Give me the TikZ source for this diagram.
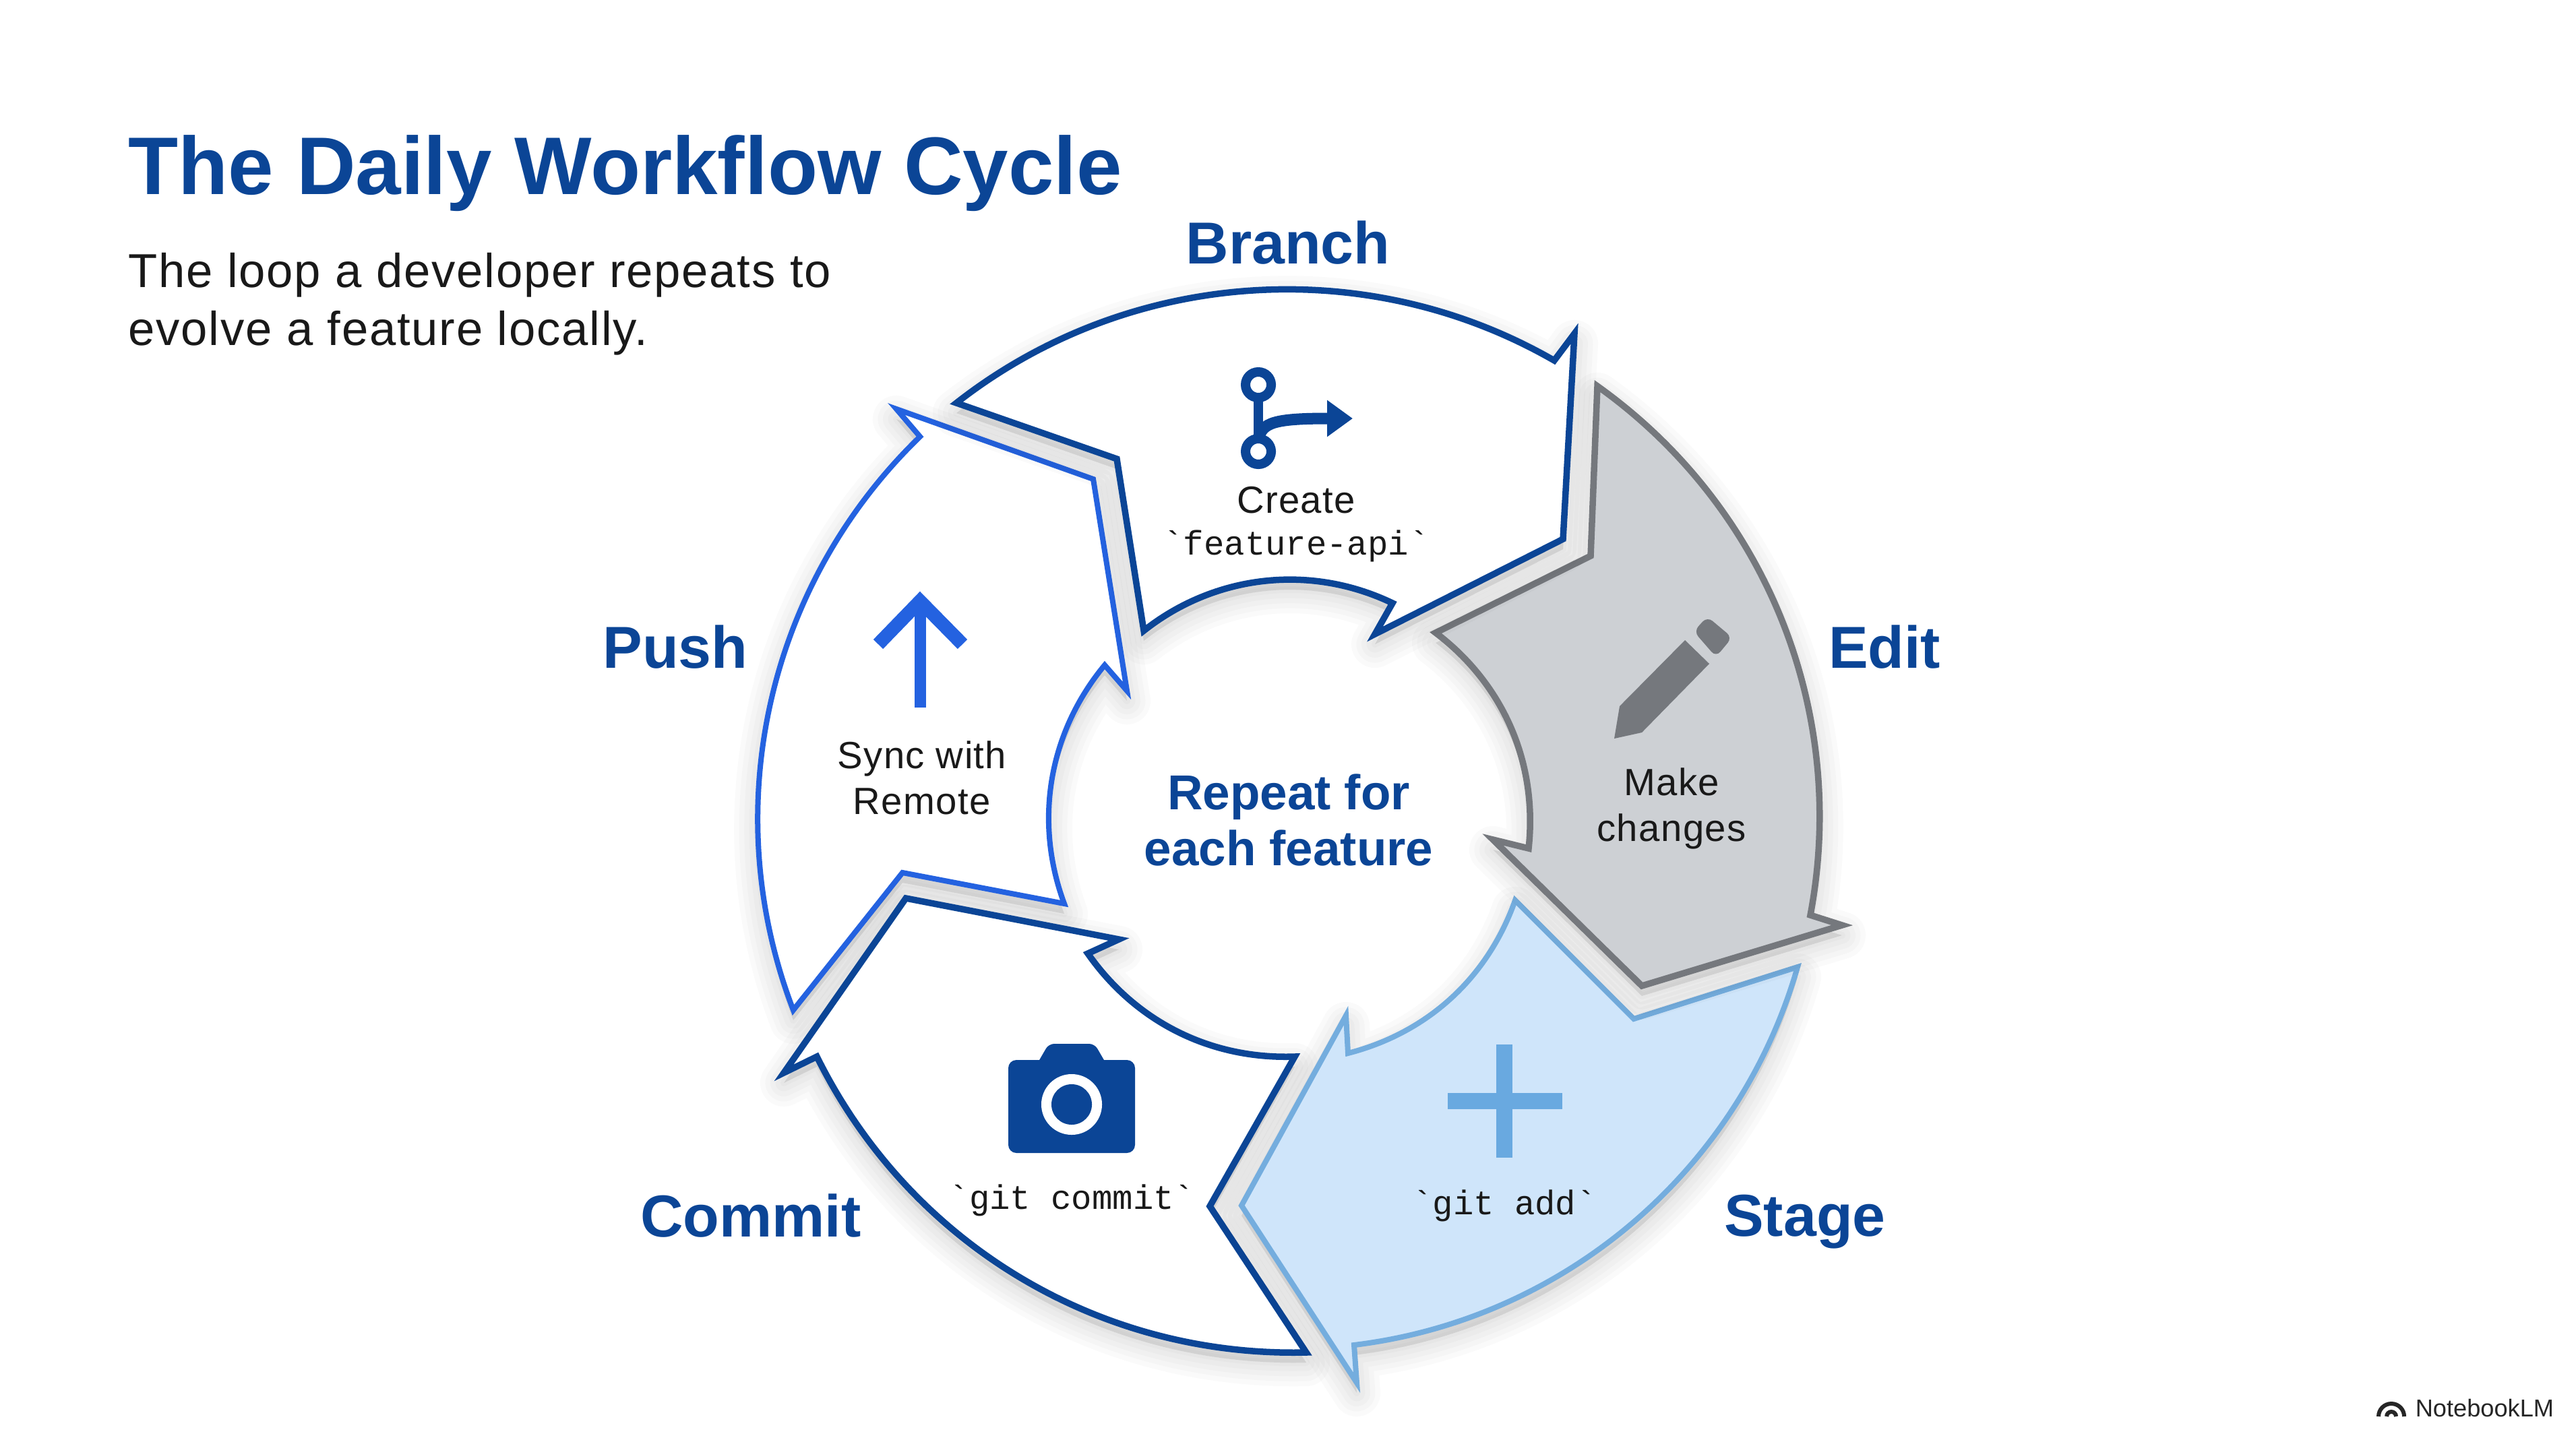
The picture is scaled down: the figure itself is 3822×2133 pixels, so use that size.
\documentclass[tikz,border=0pt]{standalone}
\usepackage{fontspec}
\setmainfont[LetterSpace=2.5]{Liberation Sans}
\setsansfont{Liberation Sans}
\setmonofont{Liberation Mono}
\usetikzlibrary{arrows.meta}
\definecolor{navy}{HTML}{0B4596}
\definecolor{brightblue}{HTML}{2462E0}
\definecolor{greyline}{HTML}{75787D}
\definecolor{greyfill}{HTML}{CDD0D4}
\definecolor{skyline}{HTML}{74ADDE}
\definecolor{skyfill}{HTML}{CFE5FA}
\definecolor{skyicon}{HTML}{69A9E0}

\begin{document}
\begin{tikzpicture}[
    x=0.01cm, y=-0.01cm, looseness=0.93,
    shadowlayer/.style={preaction={draw=black, fill=black, draw opacity=0.02, fill opacity=0.02, line width=#1, line join=round, transform canvas={yshift=-0.15cm}}},
    softshadow/.style={shadowlayer=0.7cm, shadowlayer=0.55cm, shadowlayer=0.4cm, shadowlayer=0.25cm, shadowlayer=0.1cm},
    wedge/.style={softshadow, line width=0.95mm, line join=miter},
    steplabel/.style={font=\sffamily\bfseries\fontsize{25}{30}\selectfont, text=navy},
    bodytext/.style={font=\fontsize{16}{19.3}\selectfont, text=black!90, align=center},
    codetext/.style={font=\ttfamily\fontsize{14.4}{19}\selectfont, text=black!90, align=center}
]
    \useasboundingbox (0, 0) rectangle (3822, 2133);

    % Title and explanation
    \node at (190, 257) [anchor=west, inner sep=0pt, font=\sffamily\bfseries\fontsize{34.5}{40}\selectfont, text=navy](title){The Daily Workflow Cycle};
    \node at (190, 451) [anchor=west, inner sep=0pt, align=left, font=\fontsize{20.1}{24.5}\selectfont, text=black!90](subtitle){The loop a developer repeats to\\evolve a feature locally.};

    % Push arrow
    \draw [wedge, draw=brightblue, fill=white, line width=0.8mm] (1177, 1499) to[bend left=33.5] (1365, 648) -- (1330, 607) -- (1622, 711) -- (1672, 1025) -- (1639, 987) to[bend right=30] (1579, 1341) -- (1339, 1295) -- cycle;
    % -- The up arrow icon
    \draw [brightblue, line width=0.2cm] (1303, 956) -- (1365, 892) -- (1428, 956);
    \draw [brightblue, line width=0.17cm] (1365, 892) -- (1365, 1050);
    \node at (1368, 1154) [bodytext](push_text){Sync with\\Remote};
    \node at (1002, 960) [steplabel](push_label){Push};

    % Commit arrow
    \draw [wedge, draw=navy, fill=white] (1938, 2007) to[bend left=32.5] (1212, 1568) -- (1163, 1592) -- (1344, 1333) -- (1660, 1394) -- (1614, 1415) to[bend right=28.5] (1921, 1568) -- (1795, 1790) -- cycle;
    % -- The camera icon
    \fill [navy, rounded corners=0.12cm] (1496, 1573) rectangle (1684, 1711);
    \fill [navy, rounded corners=0.08cm] (1538, 1580) -- (1556, 1549) -- (1624, 1549) -- (1642, 1580) -- cycle;
    \fill [white] (1590, 1639) circle [radius=0.45cm];
    \fill [navy] (1590, 1639) circle [radius=0.3cm];
    \node at (1590, 1781) [codetext](commit_text){`git commit`};
    \node at (1114, 1804) [steplabel](commit_label){Commit};

    % Stage arrow
    \draw [wedge, draw=skyline, fill=skyfill, line width=0.8mm] (2667, 1435) to[bend left=33.5] (2009, 1996) -- (2013, 2052) -- (1842, 1789) -- (1997, 1507) -- (2000, 1563) to[bend right=28] (2248, 1336) -- (2424, 1512) -- cycle;
    % -- The plus icon
    \draw [skyicon, line width=0.24cm] (2232, 1550) -- (2232, 1718) (2148, 1634) -- (2318, 1634);
    \node at (2232, 1789) [codetext](stage_text){`git add`};
    \node at (2678, 1813) [steplabel](stage_label){Stage};

    % Edit arrow
    \draw [wedge, draw=greyline, fill=greyfill] (2370, 573) to[bend left=32.6] (2686, 1358) -- (2733, 1373) -- (2436, 1463) -- (2215, 1246) -- (2268, 1259) to[bend right=29.5] (2130, 939) -- (2360, 825) -- cycle;
    % -- The pencil icon
    \fill [greyline] (2395, 1096) -- (2403, 1048) -- (2500, 950) -- (2536, 985) -- (2436, 1087) -- cycle;
    \fill [greyline, rounded corners=0.1cm] (2513, 937) -- (2533, 915) -- (2570, 946) -- (2546, 975) -- cycle;
    \node at (2480, 1200) [bodytext](edit_text){Make\\changes};
    \node at (2796, 960) [steplabel](edit_label){Edit};

    % Branch arrow
    \draw [wedge, draw=navy, fill=white] (1419, 598) to[bend left=34] (2306, 535) -- (2336, 495) -- (2319, 800) -- (2040, 941) -- (2066, 895) to[bend right=32] (1697, 936) -- (1657, 681) -- cycle;
    % -- The git branch icon
    \draw [navy, line width=0.14cm] (1867, 571) circle [radius=0.19cm] (1867, 670) circle [radius=0.19cm];
    \draw [navy, line width=0.14cm] (1867, 591) -- (1867, 650);
    \draw [navy, line width=0.17cm, -{Triangle[length=0.38cm, width=0.52cm]}] (1867, 650) .. controls (1874, 628) and (1888, 621) .. (2007, 621);
    \node at (1923, 742) [bodytext](branch_note){Create};
    \node at (1923, 810) [codetext](branch_text){`feature-api`};
    \node at (1911, 360) [steplabel](branch_label){Branch};

    % The text in the middle
    \node at (1912, 1217) [align=center, font=\sffamily\bfseries\fontsize{20.7}{23.8}\selectfont, text=navy](center_text){Repeat for\\each feature};

    % Logo in the corner
    \draw [black!85, line width=0.06cm] (3529, 2102) arc (180:0:0.19cm) (3541, 2102) arc (180:0:0.07cm);
    \node at (3583, 2090) [anchor=west, inner sep=0pt, font=\sffamily\fontsize{10.3}{12}\selectfont, text=black!85](logo){NotebookLM};
\end{tikzpicture}
\end{document}
